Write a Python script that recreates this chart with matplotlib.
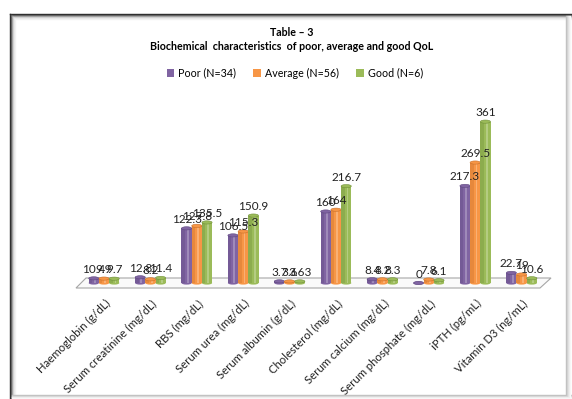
import matplotlib
matplotlib.use("Agg")
import matplotlib.pyplot as plt
from matplotlib.patches import Ellipse, Polygon, Rectangle
from matplotlib.lines import Line2D
import numpy as np

categories = ["Haemoglobin (g/dL)", "Serum creatinine (mg/dL)", "RBS (mg/dL)",
              "Serum urea (mg/dL)", "Serum albumin (g/dL)", "Cholesterol (mg/dL)",
              "Serum calcium (mg/dL)", "Serum phosphate (mg/dL)", "iPTH (pg/mL)",
              "Vitamin D3 (ng/mL)"]
poor = [10.4, 12.8, 122.3, 106.5, 3.7, 160, 8.4, 0, 217.3, 22.7]
average = [9.9, 8.2, 127.8, 115.3, 3.6, 164, 8.2, 7.8, 269.5, 19]
good = [9.7, 11.4, 135.5, 150.9, 3.63, 216.7, 8.3, 6.1, 361, 10.6]
series_names = ["Poor (N=34)", "Average (N=56)", "Good (N=6)"]
colors = ["#8064A2", "#F79646", "#9BBB59"]
dark = ["#5E4880", "#C8702A", "#71913A"]

FONT = ["Lato", "DejaVu Sans"]
W, H = 572, 399
fig = plt.figure(figsize=(W / 100, H / 100), dpi=100)
fig.patch.set_facecolor("white")

def px(x, y):
    return (x / W, 1 - y / H)

# frame border with soft shadow
for i, g in enumerate([0.15, 0.35, 0.6, 0.8, 0.9, 0.95]):
    off = i * 1.0
    fig.add_artist(Line2D([(10 + off) / W, 1], [1 - (14 + off) / H] * 2,
                          color=str(g), lw=1.0, transform=fig.transFigure))
    fig.add_artist(Line2D([(10 + off) / W] * 2, [1 - (14 + off) / H, 0],
                          color=str(g), lw=1.0, transform=fig.transFigure))
for i, g in enumerate([0.75, 0.82, 0.88, 0.93, 0.97]):
    fig.add_artist(Line2D([(566 + i) / W] * 2, [1 - 16 / H, 0], color=str(g), lw=1.0,
                          transform=fig.transFigure))
    fig.add_artist(Line2D([12 / W, 1], [(4 - i * 0.8) / H] * 2, color=str(g), lw=1.0,
                          transform=fig.transFigure))

# axes: baseline at y=283px, scale ~0.447 px/unit
base_y = 283
ymax = 400
ppu = 0.447
ax_h = ymax * ppu
x0, x1 = -0.65, 9.75
spacing = 46.4
c0 = 104
left_px = c0 + x0 * spacing
width_px = (x1 - x0) * spacing
ax = fig.add_axes([left_px / W, (H - base_y) / H, width_px / W, ax_h / H])
ax.set_xlim(x0, x1)
ax.set_ylim(0, ymax)
ax.axis("off")

# floor
floor = Polygon([px(76, 288), px(540, 288), px(551, 278), px(86, 278)], closed=True,
                facecolor="#FAFAFA", edgecolor="#A6A6A6", lw=0.8, transform=fig.transFigure,
                zorder=0)
fig.add_artist(floor)

x = np.arange(len(categories))
bw = 0.22
offs = [-bw, 0, bw]
cap_h = 3.2 / ppu
for s, (vals, c, d) in enumerate(zip([poor, average, good], colors, dark)):
    xs = x + offs[s]
    ax.bar(xs, vals, width=bw, color=c, edgecolor="none", zorder=3 + s)
    # cylinder shading
    ax.bar(xs - bw * 0.33, vals, width=bw * 0.34, color=d, alpha=0.35, edgecolor="none",
           zorder=3 + s)
    ax.bar(xs + bw * 0.12, vals, width=bw * 0.18, color="white", alpha=0.25,
           edgecolor="none", zorder=3 + s)
    for xi, v in zip(xs, vals):
        ax.add_patch(Ellipse((xi, 0), bw, cap_h, facecolor=c, edgecolor="none",
                             zorder=2.9 + s, clip_on=False))
        ax.add_patch(Ellipse((xi, v), bw, cap_h, facecolor=c, edgecolor=d, lw=0.4,
                             zorder=3.1 + s, clip_on=False))
        ax.text(xi, v + 3.5 / ppu, f"{v:g}", ha="center", va="bottom", fontsize=8.5,
                family=FONT, color="#222222", zorder=10, clip_on=False)

# category labels
for xi, lab in zip(x, categories):
    ax.text(xi + 0.02, -15 / ppu, lab, rotation=45, ha="right", va="top",
            rotation_mode="anchor", fontsize=8.2, family=FONT, color="#222222",
            clip_on=False)

# titles
fig.text(292 / W, 1 - 33 / H, "Table \u2013 3", ha="center", va="center",
         fontsize=7.7, fontweight="bold", family=FONT)
fig.text(292 / W, 1 - 47 / H, "Biochemical  characteristics  of poor, average and good QoL",
         ha="center", va="center", fontsize=7.7, fontweight="bold", family=FONT)

# legend
handles = [Rectangle((0, 0), 1, 1, facecolor=c) for c in colors]
leg = fig.legend(handles, series_names, loc="center", bbox_to_anchor=(295 / W, 1 - 73 / H),
                 ncol=3, frameon=False, prop={"family": FONT, "size": 7.7},
                 handlelength=0.7, handleheight=0.7, handletextpad=0.4, columnspacing=1.6)

fig.savefig("out.png", dpi=100, facecolor="white")
